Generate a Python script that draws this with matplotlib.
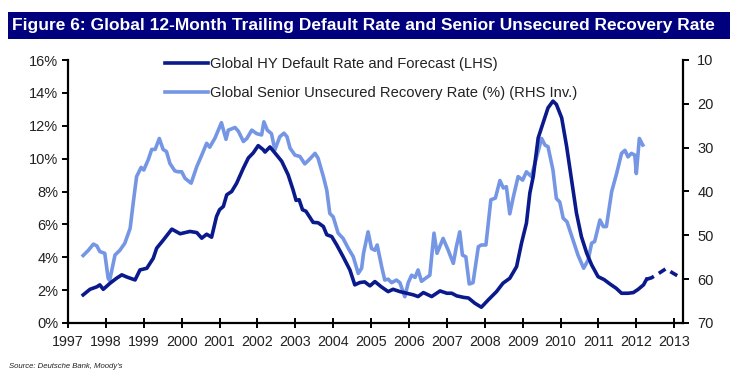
import matplotlib
matplotlib.use("Agg")
import matplotlib.pyplot as plt
from matplotlib import font_manager
from matplotlib.patches import Rectangle
from matplotlib.lines import Line2D

# --- Data ---
# Global HY default rate (LHS, %), actual
default_t = [1997.40, 1997.58, 1997.76, 1997.84, 1997.93, 1998.11, 1998.28, 1998.42, 1998.55, 1998.77,
             1998.90, 1999.08, 1999.25, 1999.34, 1999.52, 1999.74, 1999.96, 2000.22, 2000.40, 2000.53,
             2000.66, 2000.79, 2000.92, 2001.00, 2001.10, 2001.19, 2001.32, 2001.45, 2001.63, 2001.76,
             2001.89, 2002.02, 2002.15, 2002.20, 2002.33, 2002.46, 2002.64, 2002.81, 2002.94, 2003.02,
             2003.10, 2003.19, 2003.28, 2003.47, 2003.60, 2003.74, 2003.83, 2003.96, 2004.09, 2004.26,
             2004.44, 2004.57, 2004.70, 2004.83, 2004.97, 2005.10, 2005.27, 2005.45, 2005.58, 2005.76,
             2005.94, 2006.12, 2006.24, 2006.38, 2006.60, 2006.82, 2007.00, 2007.13, 2007.26, 2007.44,
             2007.57, 2007.74, 2007.91, 2008.09, 2008.31, 2008.48, 2008.66, 2008.84, 2008.97, 2009.10,
             2009.19, 2009.28, 2009.41, 2009.54, 2009.67, 2009.80, 2009.89, 2010.03, 2010.16, 2010.29,
             2010.42, 2010.55, 2010.69, 2010.82, 2010.99, 2011.15, 2011.30, 2011.47, 2011.61, 2011.78,
             2011.92, 2012.05, 2012.19, 2012.27]
default_pct = [1.71, 2.05, 2.20, 2.32, 2.05, 2.42, 2.72, 2.93, 2.80, 2.62,
               3.23, 3.33, 3.94, 4.55, 5.06, 5.71, 5.43, 5.57, 5.50, 5.16,
               5.40, 5.22, 6.48, 6.89, 7.09, 7.80, 8.00, 8.50, 9.43, 10.04,
               10.35, 10.79, 10.55, 10.40, 10.71, 10.35, 9.84, 9.02, 8.10, 7.46,
               7.50, 6.89, 6.80, 6.12, 6.10, 5.87, 5.37, 5.26, 4.76, 4.04,
               3.23, 2.32, 2.46, 2.50, 2.26, 2.52, 2.20, 1.91, 2.05, 1.91,
               1.81, 1.71, 1.61, 1.85, 1.61, 1.95, 1.81, 1.81, 1.65, 1.56,
               1.52, 1.20, 0.96, 1.40, 1.91, 2.42, 2.72, 3.43, 4.86, 6.08,
               7.91, 8.92, 11.26, 12.18, 13.09, 13.50, 13.30, 12.48, 10.75, 8.72,
               6.69, 5.26, 4.25, 3.54, 2.82, 2.64, 2.38, 2.11, 1.81, 1.81,
               1.85, 2.05, 2.32, 2.66]

# Forecast part of the default rate (dashed)
forecast_t = [2012.27, 2012.40, 2012.58, 2012.78, 2012.97, 2013.20]
forecast_pct = [2.66, 2.75, 3.00, 3.30, 3.03, 2.72]

# Global senior unsecured recovery rate (RHS, inverted, %)
recovery_t = [1997.40, 1997.54, 1997.67, 1997.76, 1997.84, 1997.97, 1998.06, 1998.10, 1998.24, 1998.37,
              1998.50, 1998.64, 1998.72, 1998.81, 1998.93, 1999.00, 1999.12, 1999.21, 1999.30, 1999.41,
              1999.51, 1999.60, 1999.69, 1999.82, 1999.90, 2000.00, 2000.09, 2000.25, 2000.40, 2000.53,
              2000.66, 2000.74, 2000.88, 2001.05, 2001.17, 2001.23, 2001.41, 2001.50, 2001.63, 2001.72,
              2001.85, 2001.98, 2002.11, 2002.17, 2002.26, 2002.37, 2002.46, 2002.59, 2002.70, 2002.78,
              2002.86, 2002.99, 2003.12, 2003.25, 2003.38, 2003.52, 2003.60, 2003.74, 2003.83, 2003.91,
              2004.00, 2004.13, 2004.26, 2004.40, 2004.53, 2004.66, 2004.75, 2004.80, 2004.92, 2005.01,
              2005.10, 2005.16, 2005.28, 2005.36, 2005.45, 2005.54, 2005.67, 2005.76, 2005.89, 2005.98,
              2006.07, 2006.16, 2006.24, 2006.33, 2006.42, 2006.55, 2006.66, 2006.74, 2006.90, 2007.03,
              2007.17, 2007.25, 2007.34, 2007.41, 2007.50, 2007.59, 2007.69, 2007.83, 2007.91, 2008.03,
              2008.16, 2008.28, 2008.40, 2008.49, 2008.57, 2008.66, 2008.75, 2008.88, 2009.00, 2009.10,
              2009.23, 2009.37, 2009.50, 2009.59, 2009.67, 2009.80, 2009.89, 2009.98, 2010.07, 2010.17,
              2010.33, 2010.46, 2010.61, 2010.73, 2010.82, 2010.90, 2011.04, 2011.13, 2011.21, 2011.35,
              2011.48, 2011.61, 2011.70, 2011.78, 2011.87, 2011.96, 2012.00, 2012.08, 2012.17]
recovery_val = [54.6, 53.4, 52.0, 52.4, 53.7, 54.1, 59.8, 60.3, 54.5, 53.4,
                51.8, 48.4, 42.7, 36.6, 34.5, 35.1, 32.7, 30.4, 30.4, 27.9,
                30.4, 30.9, 33.6, 35.3, 35.5, 35.5, 37.0, 38.1, 34.3, 31.7,
                29.0, 29.9, 27.8, 24.3, 28.1, 26.0, 25.4, 26.3, 28.6, 27.9,
                26.0, 26.8, 27.1, 24.1, 26.0, 26.8, 30.5, 27.5, 26.7, 27.5,
                30.1, 31.7, 32.0, 33.7, 32.6, 31.3, 32.4, 36.6, 39.7, 45.0,
                45.8, 49.5, 50.7, 53.0, 54.9, 58.7, 57.5, 54.1, 49.2, 53.0,
                53.4, 52.2, 57.2, 60.2, 60.0, 60.8, 60.2, 60.8, 64.0, 60.8,
                59.1, 59.6, 57.9, 60.5, 59.9, 59.1, 49.5, 54.1, 50.7, 53.3,
                56.4, 52.6, 49.2, 54.5, 54.9, 61.1, 60.8, 52.6, 52.2, 52.2,
                41.9, 41.5, 37.5, 39.2, 38.9, 45.1, 41.4, 36.6, 37.4, 35.5,
                36.6, 32.1, 27.9, 29.4, 29.8, 35.1, 41.6, 42.4, 46.1, 46.9,
                51.1, 54.5, 57.5, 55.6, 51.8, 51.4, 46.5, 48.0, 48.0, 40.0,
                35.9, 31.3, 30.6, 32.1, 31.3, 31.7, 35.9, 27.9, 29.4]

years = list(range(1997, 2014))
left_ticks = [0, 2, 4, 6, 8, 10, 12, 14, 16]
right_ticks = [10, 20, 30, 40, 50, 60, 70]

TITLE = "Figure 6: Global 12-Month Trailing Default Rate and Senior Unsecured Recovery Rate"
DARK = "#0a1a8c"
LIGHT = "#7596e4"
BAR = "#00007f"
TEXT = "#222222"

names = {f.name for f in font_manager.fontManager.ttflist}
REG = "Liberation Sans" if "Liberation Sans" in names else "DejaVu Sans"

fig = plt.figure(figsize=(7.3, 3.79), dpi=100)
fig.patch.set_facecolor("white")

# title bar
fig.patches.append(Rectangle((8 / 730, 1 - 39 / 379), 722 / 730, 27 / 379,
                             transform=fig.transFigure, facecolor=BAR, edgecolor="none"))
title = fig.text(12 / 730, 1 - 25.5 / 379, TITLE, color="white", fontsize=13, fontweight="bold",
                 family=REG, va="center", ha="left")
# shrink the title until it fits the bar (no narrow font installed)
renderer = fig.canvas.get_renderer()
w = title.get_window_extent(renderer).width
if w > 702:
    title.set_fontsize(13 * 702 / w)

ax = fig.add_axes([68 / 730, 1 - 323 / 379, (683.3 - 68) / 730, 263 / 379])
ax2 = ax.twinx()

ax.plot(default_t, default_pct, color=DARK, lw=2.6, solid_joinstyle="round", zorder=3)
ax.plot(forecast_t, forecast_pct, color=DARK, lw=2.6, ls=(0, (2.2, 1.6)), zorder=3)
ax2.plot(recovery_t, recovery_val, color=LIGHT, lw=2.6, solid_joinstyle="round", zorder=2)
ax.set_zorder(ax2.get_zorder() + 1)
ax.patch.set_visible(False)

ax.set_xlim(1997, 2013.24)
ax.set_ylim(0, 16)
ax2.set_ylim(70, 10)

ax.set_xticks(years)
ax.set_xticklabels([str(y) for y in years], family=REG, fontsize=10.3, color=TEXT)
ax.set_yticks(left_ticks)
ax.set_yticklabels([f"{v}%" for v in left_ticks], family=REG, fontsize=10.5, color=TEXT)
ax2.set_yticks(right_ticks)
ax2.set_yticklabels([str(v) for v in right_ticks], family=REG, fontsize=10.5, color=TEXT)

for a in (ax, ax2):
    a.spines["top"].set_visible(False)
    for s in ("left", "right", "bottom"):
        a.spines[s].set_linewidth(1.6)
        a.spines[s].set_color("black")
ax.spines["right"].set_visible(False)
ax2.spines["left"].set_visible(False)
ax2.spines["bottom"].set_visible(False)
ax.tick_params(axis="both", direction="out", length=4, width=1.4, colors="black", pad=3)
ax.tick_params(axis="x", direction="inout", length=7, pad=5)
ax2.tick_params(axis="y", direction="out", length=4, width=1.4, colors="black", pad=6)
for lab in ax.get_xticklabels() + ax.get_yticklabels() + ax2.get_yticklabels():
    lab.set_color(TEXT)

handles = [Line2D([], [], color=DARK, lw=2.6), Line2D([], [], color=LIGHT, lw=2.6)]
labels = ["Global HY Default Rate and Forecast (LHS)",
          "Global Senior Unsecured Recovery Rate (%) (RHS Inv.)"]
ax.legend(handles, labels, loc="upper left", bbox_to_anchor=(0.148, 1.035), frameon=False,
          handlelength=2.9, handletextpad=0.15, labelspacing=1.05, borderaxespad=0,
          prop={"family": REG, "size": 10.6}, labelcolor=TEXT)

fig.text(9 / 730, 1 - 367 / 379, "Source: Deutsche Bank, Moody's", fontsize=5.6,
         style="italic", family=REG, color=TEXT, va="center", ha="left")

fig.savefig("out.png", dpi=100)
